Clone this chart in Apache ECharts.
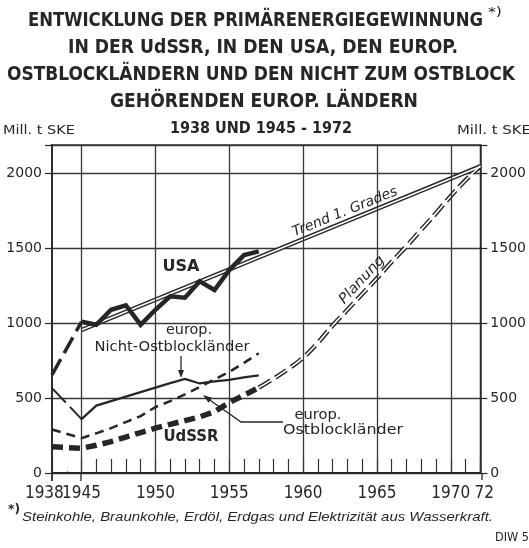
<!DOCTYPE html>
<html><head><meta charset="utf-8">
<script src="https://cdn.jsdelivr.net/npm/echarts@6/dist/echarts.min.js"></script>
<style>html,body{margin:0;padding:0;background:#fff}#c{width:529px;height:548px}</style>
</head><body><div id="c"></div>
<script>
// ---- data (Mill. t SKE) ----
const years     = [1938,1945,1946,1947,1948,1949,1950,1951,1952,1953,1954,1955,1956,1957];
const usa       = [ 655,1010, 990,1090,1120, 990,1090,1180,1170,1280,1222,1355,1455,1480];
const nichtOst  = [ 567, 360, 450, 480, 510, 540, 570, 600, 628, 598, 612, 622, 638, 652];
const ostblock  = [ 290, 233, 265, 300, 340, 380, 440, 480, 525, 575, 625, 675, 735, 800];
const udssr     = [ 175, 165, 185, 210, 240, 270, 300, 325, 350, 375, 410, 470, 520, 570];
const trendYears  = [1945, 1972];
const trendValues = [ 955, 2047];
const planYears  = [1957,1958,1959,1960,1961,1962,1963,1964,1965,1966,1967,1968,1969,1970,1971,1972];
const planValues = [ 570, 630, 695, 770, 870, 985,1090,1195,1300,1410,1515,1625,1735,1850,1955,2050];
const xTickYears  = [1938,1945,1950,1955,1960,1965,1970,1972];
const xTickLabels = ['1938','1945','1950','1955','1960','1965','1970','72'];
const gridYears   = [1945,1950,1955,1960,1965,1970];

// axis break: 1938 is drawn at the place of 1943
const BREAK_AT = 1943;
const pos = y => (y === 1938 ? BREAK_AT : y);
const pairs = (xs, ys) => xs.map((x, i) => [pos(x), ys[i]]);

const INK = '#262626';
const ctx = document.createElement('canvas').getContext('2d');
function fitScale(text, font, w) { ctx.font = font; return w / ctx.measureText(text).width; }
function txt(text, x, y, font, w, o) {
  o = o || {};
  return { type: 'text', x: x, y: y, z: 100,
    scaleX: w ? fitScale(text, font, w) : 1,
    rotation: (o.rot || 0) * Math.PI / 180,
    style: { text: text, font: font, fill: INK, align: o.align || 'center', verticalAlign: 'middle' } };
}
function arrowHead(tip, from, len, half) {
  const dx = tip[0] - from[0], dy = tip[1] - from[1], L = Math.hypot(dx, dy);
  const ux = dx / L, uy = dy / L, bx = tip[0] - ux * len, by = tip[1] - uy * len;
  return { type: 'polygon', z: 100, shape: { points: [tip, [bx - uy * half, by + ux * half], [bx + uy * half, by - ux * half]] }, style: { fill: INK } };
}

const chart = echarts.init(document.getElementById('c'), null, { renderer: 'canvas' });

const TITLE_FONT = 'bold 20px "DejaVu Sans Condensed", "DejaVu Sans", sans-serif';
const LBL_FONT = '14px "DejaVu Sans Condensed", "DejaVu Sans", sans-serif';
const XFONT = '"Liberation Sans Narrow", "DejaVu Sans Condensed", sans-serif';
const XSIZE = 17;
const graphics = [
  txt('ENTWICKLUNG DER PRIMÄRENERGIEGEWINNUNG', 255.5, 21, TITLE_FONT, 455),
  txt('*)', 495, 13, '12px "DejaVu Sans", sans-serif', 14),
  txt('IN DER UdSSR, IN DEN USA, DEN EUROP.', 263, 48, TITLE_FONT, 390),
  txt('OSTBLOCKLÄNDERN UND DEN NICHT ZUM OSTBLOCK', 261, 75, TITLE_FONT, 508),
  txt('GEHÖRENDEN EUROP. LÄNDERN', 264, 102, TITLE_FONT, 308),
  txt('1938 UND 1945 - 1972', 261, 129, 'bold 16px "DejaVu Sans Condensed", "DejaVu Sans", sans-serif', 182),
  txt('Mill. t SKE', 3, 131, '13px "DejaVu Sans Condensed", "DejaVu Sans", sans-serif', 72, { align: 'left' }),
  txt('Mill. t SKE', 457, 131, '13px "DejaVu Sans Condensed", "DejaVu Sans", sans-serif', 74, { align: 'left' }),
  // in-chart labels
  txt('USA', 181, 267, 'bold 16px "DejaVu Sans", sans-serif', 37),
  txt('europ.', 189, 330, LBL_FONT, 46),
  txt('Nicht-Ostblockländer', 172, 347, LBL_FONT, 155),
  txt('UdSSR', 191, 437, 'bold 16px "DejaVu Sans", sans-serif', 55),
  txt('europ.', 318, 415, LBL_FONT, 47),
  txt('Ostblockländer', 343, 430, LBL_FONT, 120),
  txt('Trend 1. Grades', 345, 212, 'italic 14px "DejaVu Sans", sans-serif', 112, { rot: 22 }),
  txt('Planung', 362, 280, 'italic 14px "DejaVu Sans", sans-serif', 60, { rot: 47 }),
  // pointers
  { type: 'polyline', z: 100, shape: { points: [[181, 356], [181, 371]] }, style: { stroke: INK, lineWidth: 1.3, fill: null } },
  arrowHead([181, 378], [181, 356], 8, 3),
  { type: 'polyline', z: 100, shape: { points: [[283, 422], [241, 422], [207, 398]] }, style: { stroke: INK, lineWidth: 1.3, fill: null } },
  arrowHead([203, 395], [241, 422], 9, 3),
  // frame overhangs (axis cross at bottom)
  { type: 'line', z: 90, shape: { x1: 52, y1: 473, x2: 52, y2: 481 }, style: { stroke: INK, lineWidth: 1.8 } },
  { type: 'line', z: 90, shape: { x1: 81, y1: 473, x2: 81, y2: 481 }, style: { stroke: INK, lineWidth: 1.3 } },
  { type: 'line', z: 90, shape: { x1: 482, y1: 473, x2: 482, y2: 480 }, style: { stroke: INK, lineWidth: 1.3 } },
  // footnote
  txt('*)', 14, 510, 'bold 12px "DejaVu Sans", sans-serif', 12),
  txt('Steinkohle, Braunkohle, Erdöl, Erdgas und Elektrizität aus Wasserkraft.', 257.5, 517, 'italic 13px "Liberation Sans", sans-serif', 471),
  txt('DIW 5', 495, 538, '12px "DejaVu Sans", sans-serif', 34, { align: 'left' })
];

const line = (name, data, width, type, extra) => Object.assign({
  name: name, type: 'line', data: data, showSymbol: false, symbol: 'none', silent: true,
  lineStyle: { color: INK, width: width, type: type, cap: 'butt', join: 'miter' }, z: 5
}, extra || {});

const yLabelFmt = v => (v % 500 === 0 && v <= 2000 ? String(v) : '');

chart.setOption({
  animation: false,
  backgroundColor: '#fff',
  grid: { left: 52, right: 47, top: 145, bottom: 75, show: true, borderColor: '#333', borderWidth: 1.3, backgroundColor: 'transparent' },
  xAxis: {
    type: 'value', min: BREAK_AT, max: 1972, interval: 1,
    axisLine: { show: true, onZero: false, lineStyle: { color: INK, width: 1.8 } },
    axisTick: { show: true, inside: true, length: 14, lineStyle: { color: '#333', width: 1.2 } },
    axisLabel: {
      showMinLabel: true, showMaxLabel: true, hideOverlap: false,
      margin: 12, color: INK, fontSize: XSIZE, fontFamily: XFONT,
      formatter: v => {
        const i = xTickYears.map(pos).indexOf(Math.round(v));
        if (i < 0) return '';
        if (i === 0) return xTickLabels[i] + '\u2002\u2002';
        if (i === xTickYears.length - 1) return '\u2002' + xTickLabels[i];
        return xTickLabels[i];
      }
    },
    splitLine: { show: false }
  },
  yAxis: [
    { type: 'value', min: 0, max: 2190, interval: 500, position: 'left',
      axisLine: { show: true, lineStyle: { color: INK, width: 1.8 } },
      axisTick: { show: true, length: 7, lineStyle: { color: INK, width: 1.2 } },
      axisLabel: { formatter: yLabelFmt, color: INK, fontSize: 14, fontFamily: '"DejaVu Sans", sans-serif', margin: 10 },
      splitLine: { show: true, lineStyle: { color: '#383838', width: 1.3 } } },
    { type: 'value', min: 0, max: 2190, interval: 500, position: 'right',
      axisLine: { show: true, lineStyle: { color: INK, width: 1.5 } },
      axisTick: { show: true, length: 7, lineStyle: { color: INK, width: 1.2 } },
      axisLabel: { formatter: yLabelFmt, color: INK, fontSize: 14, fontFamily: '"DejaVu Sans", sans-serif', margin: 10 },
      splitLine: { show: false } }
  ],
  series: [
    // vertical grid lines
    { type: 'line', data: [], silent: true, markLine: { silent: true, symbol: 'none', animation: false, label: { show: false },
      lineStyle: { color: '#383838', width: 1.3, type: 'solid' }, data: gridYears.map(y => ({ xAxis: y })) } },
    // trend (double line)
    line('Trend', pairs(trendYears, trendValues), 4.5, 'solid', { z: 3 }),
    line('Trend-in', pairs(trendYears, trendValues), 1.6, 'solid', { z: 4, lineStyle: { color: '#fff', width: 1.6 } }),
    // Planung (double dashed)
    line('Planung', pairs(planYears, planValues), 4.5, [14, 5], { z: 3, smooth: 0.5 }),
    line('Planung-in', pairs(planYears, planValues), 1.6, 'solid', { z: 4, smooth: 0.5, lineStyle: { color: '#fff', width: 1.6 } }),
    // USA
    line('USA 1938', pairs(years.slice(0, 2), usa.slice(0, 2)), 3.5, [18, 7], { z: 6 }),
    line('USA', pairs(years.slice(1), usa.slice(1)), 4.5, 'solid', { z: 6 }),
    // europ. Nicht-Ostblocklaender
    line('Nicht-Ost 1938', pairs(years.slice(0, 2), nichtOst.slice(0, 2)), 2, [20, 6]),
    line('Nicht-Ost', pairs(years.slice(1), nichtOst.slice(1)), 2.2, 'solid'),
    // europ. Ostblocklaender
    line('Ostblock', pairs(years, ostblock), 2.5, [9, 6]),
    // UdSSR
    line('UdSSR', pairs(years, udssr), 5.5, [11, 6])
  ],
  graphic: graphics
});

// the axis break has no yearly tick between 1938 and 1945: blank the one tick that falls there
const gap = chart.convertToPixel({ xAxisIndex: 0 }, 1944);
const y0 = chart.convertToPixel({ yAxisIndex: 0 }, 0);
chart.setOption({ graphic: graphics.concat([{ type: 'rect', z: 95, shape: { x: gap - 2, y: y0 - 15, width: 4, height: 13.5 }, style: { fill: '#fff' } }]) });
</script></body></html>
